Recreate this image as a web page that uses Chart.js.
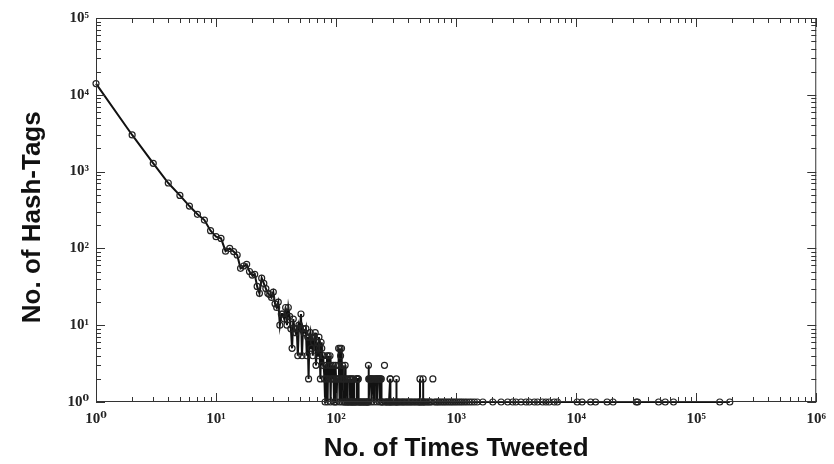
<!DOCTYPE html>
<html>
<head>
<meta charset="utf-8">
<script src="https://cdn.jsdelivr.net/npm/chart.js@4.4.1/dist/chart.umd.min.js"></script>
<style>
  html, body { margin: 0; padding: 0; background: #ffffff; }
  #wrap { width: 834px; height: 464px; }
</style>
</head>
<body>
<div id="wrap"><canvas id="c" width="834" height="464"></canvas></div>
<script>
// ---- data ----
const timesTweeted = [
  1,2,3,4,5,6,7,8,9,10,
  11,12,13,14,15,16,17,18,19,20,
  21,22,23,24,25,26,27,28,29,30,
  31,32,33,34,35,36,37,38,39,40,
  41,42,43,44,45,46,47,48,49,50,
  51,52,53,54,55,56,57,58,59,60,
  61,62,63,64,65,66,67,68,69,70,
  71,72,73,74,75,76,77,78,79,80,
  81,82,83,84,85,86,87,88,89,90,
  91,92,93,94,95,96,97,98,99,100,
  101,102,103,104,105,106,107,108,109,110,
  111,112,113,114,115,116,117,118,119,120,
  121,122,123,124,125,126,127,128,129,130,
  131,132,133,134,135,136,137,138,139,140,
  141,143,144,145,147,148,149,150,152,153,
  154,156,158,160,162,163,165,168,170,172,
  173,176,178,181,183,185,186,187,188,190,
  193,196,197,200,204,207,210,214,218,219,
  222,226,230,231,234,238,239,242,245,248,
  253,254,256,260,265,270,276,281,282,283,
  284,290,296,302,310,317,318,319,325,333,
  340,350,358,366,375,385,395,405,415,426,
  437,450,462,475,488,499,500,501,515,530,
  531,532,546,560,575,590,606,622,639,640,
  641,660,680,700,720,745,770,795,820,850,
  880,910,940,975,1010,1050,1090,1130,1180,1230,
  1290,1350,1420,1500,1670,2020,2370,2690,2960,3150,
  3470,3820,4070,4480,4770,5250,5600,5960,6560,6980,
  10200,11200,13200,14500,18100,20300,31700,32500,48600,55200,
  64700,157000,190500
];
const hashTags = [
  14000,3000,1280,710,490,356,278,234,170,142,
  135,92,100,91,82,55,59,62,50,45,
  46,32,26,41,35,30,26,25,23,27,
  19,17,20,10,14,14,12,17,10,17,
  13,9,5,12,9,8,9,4,10,9,
  14,4,9,8,8,9,4,7,2,7,
  8,5,7,4,6,7,8,3,5,6,
  4,7,5,2,6,5,3,4,4,2,
  1,3,2,4,1,4,2,3,4,1,
  3,2,null,2,3,1,2,1,3,2,
  1,2,null,3,5,2,1,5,4,2,
  5,1,3,2,null,1,2,1,3,1,
  2,null,1,1,2,null,1,1,null,2,
  1,2,1,null,1,2,1,1,null,2,
  1,1,null,1,1,2,2,1,2,2,
  1,1,1,1,null,1,1,1,1,null,
  1,1,1,1,1,1,3,2,1,2,
  2,2,1,2,2,1,2,2,2,1,
  2,2,2,1,2,2,1,1,1,null,
  3,null,1,1,1,1,1,1,2,2,
  1,1,1,1,1,1,2,1,1,1,
  1,1,1,1,1,1,1,1,1,1,
  1,1,1,1,1,1,2,1,1,1,
  2,1,1,1,1,1,1,1,null,2,
  null,1,1,1,1,1,1,1,1,1,
  1,1,1,1,1,1,1,1,1,1,
  1,1,1,1,1,1,1,1,1,1,
  1,1,1,1,1,1,1,1,1,1,
  1,1,1,1,1,1,1,1,1,1,
  1,1,1
];
const xTickValues = [1, 10, 100, 1000, 10000, 100000, 1000000];
const yTickValues = [1, 10, 100, 1000, 10000, 100000];
const xTitle = 'No. of Times Tweeted';
const yTitle = 'No. of Hash-Tags';

const SUP = ['\u2070','\u00B9','\u00B2','\u00B3','\u2074','\u2075','\u2076'];
function powLabel(v) {
  const e = Math.round(Math.log10(v));
  return '10' + SUP[e];
}

// draws the closed frame with inward major/minor ticks on all four sides
const frameTicks = {
  id: 'frameTicks',
  afterDatasetsDraw(chart) {
    const {ctx, chartArea: a, scales} = chart;
    const xs = scales.x, ys = scales.y;
    ctx.save();
    ctx.strokeStyle = '#333';
    ctx.lineWidth = 1;
    ctx.strokeRect(a.left + 0.5, a.top + 0.5, a.right - a.left - 1, a.bottom - a.top - 1);
    ctx.beginPath();
    const major = 9, minor = 5;
    for (let i = 0; i < xTickValues.length; i++) {
      const base = xTickValues[i];
      for (let m = 1; m <= 9; m++) {
        const v = base * m;
        if (v > xTickValues[xTickValues.length - 1]) break;
        const px = Math.round(xs.getPixelForValue(v)) + 0.5;
        const len = m === 1 ? major : minor;
        ctx.moveTo(px, a.bottom); ctx.lineTo(px, a.bottom - len);
        ctx.moveTo(px, a.top); ctx.lineTo(px, a.top + len);
      }
    }
    for (let i = 0; i < yTickValues.length; i++) {
      const base = yTickValues[i];
      for (let m = 1; m <= 9; m++) {
        const v = base * m;
        if (v > yTickValues[yTickValues.length - 1]) break;
        const py = Math.round(ys.getPixelForValue(v)) + 0.5;
        const len = m === 1 ? major : minor;
        ctx.moveTo(a.left, py); ctx.lineTo(a.left + len, py);
        ctx.moveTo(a.right, py); ctx.lineTo(a.right - len, py);
      }
    }
    ctx.stroke();
    ctx.restore();
  }
};

const tickFont = { family: '"Liberation Serif", "DejaVu Serif", serif', size: 15, weight: 'bold' };
const titleFont = { family: '"Liberation Sans", Arial, sans-serif', size: 26, weight: 'bold' };

new Chart(document.getElementById('c'), {
  type: 'line',
  data: {
    datasets: [{
      data: timesTweeted.map((x, i) => ({ x: x, y: hashTags[i] })),
      borderColor: '#111',
      borderWidth: 2,
      pointRadius: 3,
      pointBorderWidth: 1.2,
      pointBorderColor: '#222',
      pointBackgroundColor: 'rgba(255,255,255,0)',
      spanGaps: false,
      tension: 0,
      clip: false
    }]
  },
  options: {
    responsive: false,
    animation: false,
    devicePixelRatio: 1,
    layout: { padding: { top: 18, right: 14, left: 0, bottom: 0 } },
    plugins: { legend: { display: false }, tooltip: { enabled: false } },
    scales: {
      x: {
        type: 'logarithmic',
        min: 1, max: 1000000,
        afterBuildTicks: s => { s.ticks = xTickValues.map(v => ({ value: v, major: true })); },
        afterFit: s => { s.height = 62; },
        grid: { display: false, drawTicks: false },
        border: { display: false },
        ticks: {
          callback: v => powLabel(v),
          font: tickFont, color: '#222', padding: 8,
          maxRotation: 0, autoSkip: false
        },
        title: { display: true, text: xTitle, font: titleFont, color: '#111', padding: { top: 0, bottom: 0 } }
      },
      y: {
        type: 'logarithmic',
        min: 1, max: 100000,
        afterBuildTicks: s => { s.ticks = yTickValues.map(v => ({ value: v, major: true })); },
        afterFit: s => { s.width = 96; },
        grid: { display: false, drawTicks: false },
        border: { display: false },
        ticks: {
          callback: v => powLabel(v),
          font: tickFont, color: '#222', padding: 7,
          autoSkip: false
        },
        title: { display: true, text: yTitle + '\u00a0\u00a0', font: titleFont, color: '#111', padding: { top: 17, bottom: 0 } }
      }
    }
  },
  plugins: [frameTicks]
});
</script>
</body>
</html>
